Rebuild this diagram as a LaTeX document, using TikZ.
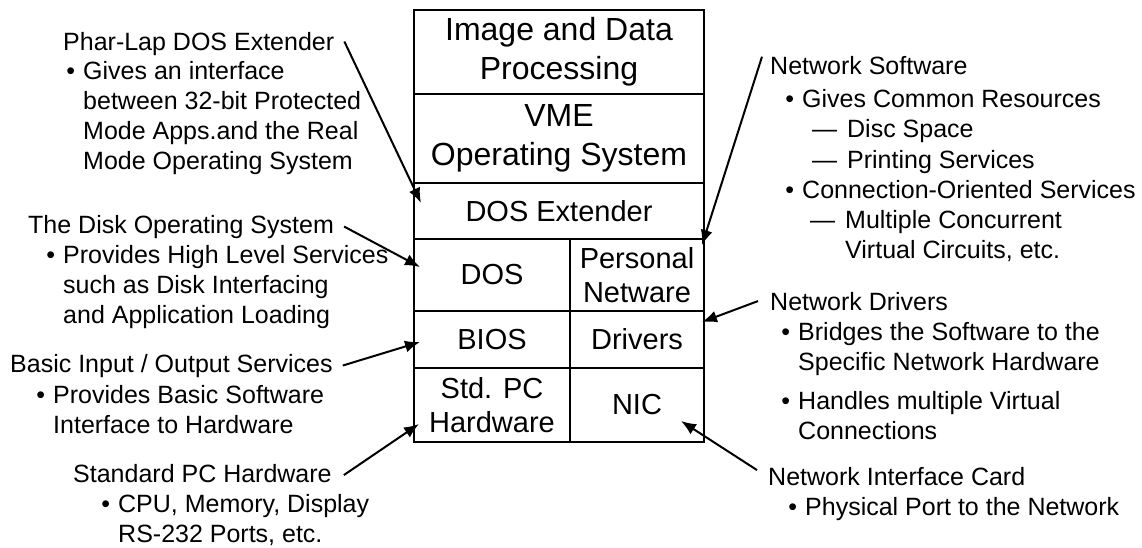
\documentclass[tikz,border=0pt]{standalone}
\usepackage{fontspec}
\setmainfont{Liberation Sans}
\usetikzlibrary{arrows.meta}
\newcommand{\bul}{\llap{\textbullet\hspace{8pt}}}
\newcommand{\dashmark}{\llap{---\hspace{10pt}}}

\begin{document}
\begin{tikzpicture}[x=1pt,y=-1pt]
\tikzset{cell/.style = {shape=rectangle,draw,line width=2.6pt,inner sep=0pt,outer sep=0pt,align=center,font=\fontsize{29}{34}\selectfont}}
\tikzset{widecell/.style = {cell,minimum width=290pt,font=\fontsize{32}{39}\selectfont}}
\tikzset{head/.style = {anchor=base west,inner sep=0pt,font=\fontsize{25}{30}\selectfont}}
\tikzset{note/.style = {head,align=left}}
\tikzset{edge/.style = {-{Latex[length=15pt,width=12pt]},line width=2pt}}
\useasboundingbox (0,0) rectangle (1142,548);

%stack
\node[widecell,minimum height=84pt] (imgproc) at (559,52) {Image and Data\\Processing};
\node[widecell,minimum height=89pt] (vmeos) at (559,138.5) {VME\\Operating System};
\node[widecell,minimum height=56pt,font=\fontsize{29}{34}\selectfont] (dosext) at (559,211) {DOS Extender};
\node[cell,minimum width=156pt,minimum height=72pt] (dos) at (492,275) {DOS};
\node[cell,minimum width=134pt,minimum height=72pt] (pnet) at (637,275) {Personal\\Netware};
\node[cell,minimum width=156pt,minimum height=57pt] (bios) at (492,339.5) {BIOS};
\node[cell,minimum width=134pt,minimum height=57pt] (drivers) at (637,339.5) {Drivers};
\node[cell,minimum width=156pt,minimum height=74pt] (stdhw) at (492,405) {Std. PC\\Hardware};
\node[cell,minimum width=134pt,minimum height=74pt] (nic) at (637,405) {NIC};

%left notes (notes sit on their last line)
\node[head] (pharlap) at (63,51) {Phar-Lap DOS Extender};
\node[note] (pharlapnote) at (83,170) {\bul Gives an interface\\between 32-bit Protected\\Mode Apps.and the Real\\Mode Operating System};
\node[head] (disk) at (28,233) {The Disk Operating System};
\node[note] (disknote) at (63,323) {\bul Provides High Level Services\\such as Disk Interfacing\\and Application Loading};
\node[head] (basic) at (10,372) {Basic Input / Output Services};
\node[note] (basicnote) at (53,433) {\bul Provides Basic Software\\Interface to Hardware};
\node[head] (stdpc) at (73,482) {Standard PC Hardware};
\node[note] (stdpcnote) at (118,542) {\bul CPU, Memory, Display\\RS-232 Ports, etc.};

%right notes
\node[head] (netsw) at (770,75) {Network Software};
\node[note] (netswnote) at (802,258) {\bul Gives Common Resources\\\hspace*{45pt}\dashmark Disc Space\\\hspace*{45pt}\dashmark Printing Services\\\bul Connection-Oriented Services\\\hspace*{43pt}\dashmark Multiple Concurrent\\\hspace*{43pt}Virtual Circuits, etc.};
\node[head] (netdrv) at (770,310) {Network Drivers};
\node[note] (netdrvnote) at (798,439) {\bul Bridges the Software to the\\Specific Network Hardware\\[9pt]\bul Handles multiple Virtual\\Connections};
\node[head] (nicard) at (768,485) {Network Interface Card};
\node[note] (nicardnote) at (805,515) {\bul Physical Port to the Network};

%arrow tips
\coordinate (pharlaptip) at (421,203);
\coordinate (disktip) at (420,267);
\coordinate (basictip) at (420,342);
\coordinate (stdpctip) at (419,424);
\coordinate (netswtip) at (702,245);
\coordinate (netdrvtip) at (702,322);
\coordinate (nicardtip) at (681,421);

%edges
\draw[edge] ([xshift=10pt,yshift=3pt]pharlap.east) to (pharlaptip);
\draw[edge] ([xshift=10pt]disk.east) to (disktip);
\draw[edge] ([xshift=10pt]basic.east) to (basictip);
\draw[edge] ([xshift=12pt,yshift=-2pt]stdpc.east) to (stdpctip);
\draw[edge] ([xshift=-8pt]netsw.north west) to (netswtip);
\draw[edge] ([xshift=-12pt]netdrv.west) to (netdrvtip);
\draw[edge] ([xshift=-11pt,yshift=6pt]nicard.west) to (nicardtip);
\end{tikzpicture}
\end{document}
